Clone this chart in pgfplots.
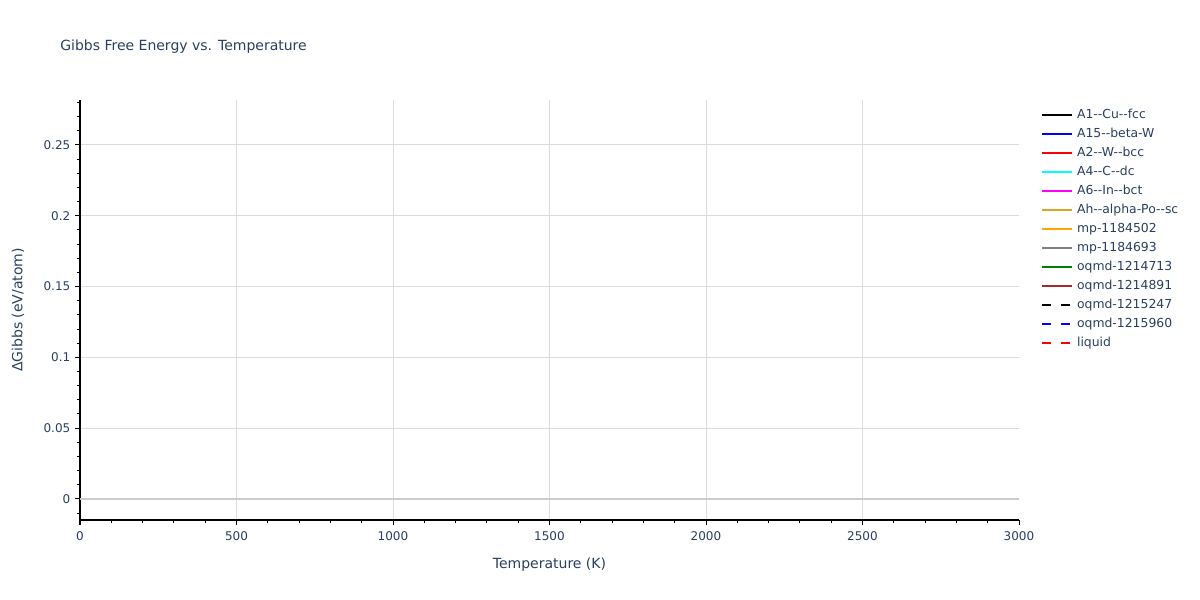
\documentclass[border=0pt]{standalone}
\usepackage{pgfplots}
\pgfplotsset{compat=1.18}
\usepackage{fontspec}
\setmainfont{DejaVu Sans}

% 1 px of the reference = 0.75pt
\newlength\pxu
\setlength\pxu{0.75pt}

\definecolor{txt}{HTML}{2A3F5F}
\definecolor{gridc}{HTML}{DCDCDC}
\definecolor{zeroc}{HTML}{CCCCCC}
\definecolor{bluec}{HTML}{0000FF}
\definecolor{redc}{HTML}{FF0000}
\definecolor{cyanc}{HTML}{00FFFF}
\definecolor{magentac}{HTML}{FF00FF}
\definecolor{goldenrod}{HTML}{DAA520}
\definecolor{orangec}{HTML}{FFA500}
\definecolor{grayc}{HTML}{808080}
\definecolor{greenc}{HTML}{008000}
\definecolor{brownc}{HTML}{A52A2A}

\begin{document}
\begin{tikzpicture}
\path[use as bounding box] (0,0) rectangle (1200\pxu,600\pxu);
\begin{axis}[
    at={(80\pxu,80\pxu)}, anchor=south west,
    scale only axis,
    width=939\pxu, height=420\pxu,
    xmin=0, xmax=3000,
    ymin=-0.01485, ymax=0.2817,
    axis x line*=bottom, axis y line*=left,
    axis line style={black, line width=1\pxu, -},
    xtick={0,500,1000,1500,2000,2500},
    extra x ticks={3000},
    extra x tick style={xmajorgrids=false},
    minor xtick={100,200,300,400,600,700,800,900,1100,1200,1300,1400,1600,1700,1800,1900,2100,2200,2300,2400,2600,2700,2800,2900},
    ytick={0.05,0.1,0.15,0.2,0.25},
    extra y ticks={0},
    extra y tick style={major grid style={color=zeroc, line width=2\pxu}},
    minor ytick={-0.01,0.01,0.02,0.03,0.04,0.06,0.07,0.08,0.09,0.11,0.12,0.13,0.14,0.16,0.17,0.18,0.19,0.21,0.22,0.23,0.24,0.26,0.27,0.28},
    scaled y ticks=false,
    /pgf/number format/fixed,
    /pgf/number format/1000 sep={},
    /pgf/number format/assume math mode=true,
    tick align=outside,
    major tick length=5\pxu, minor tick length=3\pxu,
    tick style={black, line width=1\pxu},
    xmajorgrids, ymajorgrids,
    major grid style={color=gridc, line width=1\pxu},
    ticklabel style={font=\fontsize{9}{9}\selectfont, text=txt},
    xticklabel style={yshift=-2\pxu},
    every axis title shift=0pt,
    title={Gibbs Free Energy vs. Temperature},
    title style={at={(axis description cs:-0.0213,1.126)}, anchor=west,
        inner sep=0pt,
        font=\fontsize{10.5}{10.5}\selectfont, text=txt},
    xlabel={Temperature (K)},
    xlabel style={at={(axis description cs:0.5,-0.1071)}, anchor=center,
        font=\fontsize{10.5}{10.5}\selectfont, text=txt},
    ylabel={ΔGibbs (eV/atom)},
    ylabel style={at={(axis description cs:-0.0660,0.5)}, anchor=center,
        font=\fontsize{10.5}{10.5}\selectfont, text=txt},
    legend style={at={(axis description cs:1.0235,0.9870)}, anchor=north west,
        draw=none, fill=none, inner sep=0pt, outer sep=0pt,
        column sep=4\pxu, row sep=0pt,
        font=\fontsize{9.3}{9.3}\selectfont, text=txt,
        nodes={inner sep=0pt, minimum height=19\pxu}},
    legend cell align=left,
    legend image code/.code={\draw[#1] (0pt,0pt) -- (30\pxu,0pt);},
]
% no curve of this chart carries any data: only the legend is filled
\addlegendimage{black, line width=2\pxu}
\addlegendentry{A1-{}-Cu-{}-fcc}
\addlegendimage{bluec, line width=2\pxu}
\addlegendentry{A15-{}-beta-W}
\addlegendimage{redc, line width=2\pxu}
\addlegendentry{A2-{}-W-{}-bcc}
\addlegendimage{cyanc, line width=2\pxu}
\addlegendentry{A4-{}-C-{}-dc}
\addlegendimage{magentac, line width=2\pxu}
\addlegendentry{A6-{}-In-{}-bct}
\addlegendimage{goldenrod, line width=2\pxu}
\addlegendentry{Ah-{}-alpha-Po-{}-sc}
\addlegendimage{orangec, line width=2\pxu}
\addlegendentry{mp-1184502}
\addlegendimage{grayc, line width=2\pxu}
\addlegendentry{mp-1184693}
\addlegendimage{greenc, line width=2\pxu}
\addlegendentry{oqmd-1214713}
\addlegendimage{brownc, line width=2\pxu}
\addlegendentry{oqmd-1214891}
\addlegendimage{black, line width=2\pxu, dash pattern=on 9\pxu off 10\pxu}
\addlegendentry{oqmd-1215247}
\addlegendimage{bluec, line width=2\pxu, dash pattern=on 9\pxu off 10\pxu}
\addlegendentry{oqmd-1215960}
\addlegendimage{redc, line width=2\pxu, dash pattern=on 9\pxu off 10\pxu}
\addlegendentry{liquid}
\end{axis}
\end{tikzpicture}
\end{document}
